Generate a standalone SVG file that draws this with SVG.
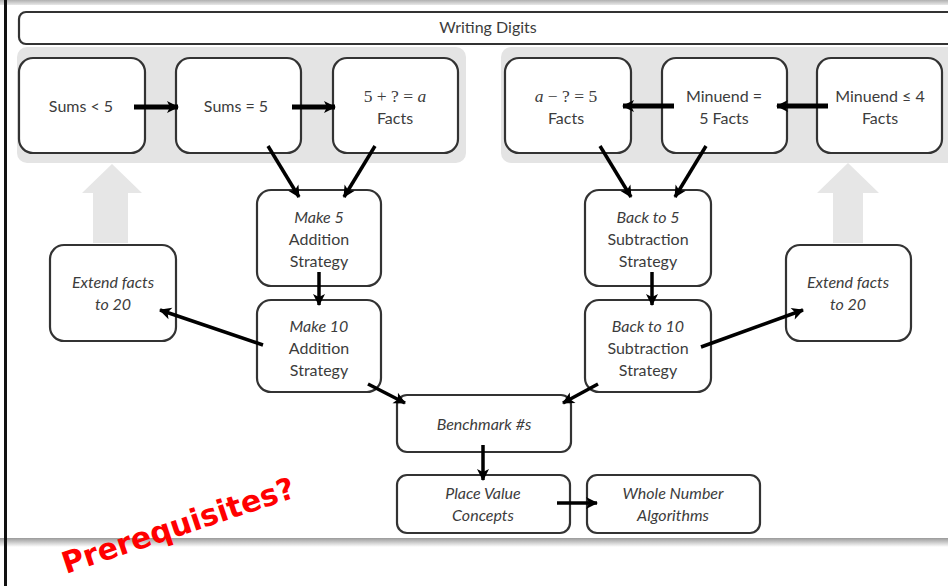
<svg xmlns="http://www.w3.org/2000/svg" width="948" height="586" viewBox="0 0 948 586">
<defs>
<style>
.box{fill:#fff;stroke:#333;stroke-width:2.2}
.t{font-family:Lato,"Open Sans","Liberation Sans",sans-serif;font-size:16px;fill:#3c3c3c;text-anchor:middle}
.i{font-style:italic}
.m{font-family:"Liberation Serif","DejaVu Serif",serif;font-size:17.5px;fill:#3c3c3c;text-anchor:middle}
.c{stroke:#000;stroke-width:3.5;fill:none;marker-end:url(#ah)}
.ct{stroke:#000;stroke-width:5;fill:none;marker-end:url(#ah)}
.band{fill:#e4e4e4}
.garrow{fill:#e6e6e6}
</style>
<marker id="ah" markerUnits="userSpaceOnUse" markerWidth="14" markerHeight="14" viewBox="0 0 14 14" refX="12" refY="7" orient="auto">
<path d="M1,1 L13,7 L1,13 L4,7 Z" fill="#000"/>
</marker>
<linearGradient id="sh" x1="0" y1="0" x2="0" y2="1">
<stop offset="0" stop-color="#9a9a9a"/>
<stop offset="1" stop-color="#ffffff"/>
</linearGradient>
<linearGradient id="tp" x1="0" y1="0" x2="0" y2="1">
<stop offset="0" stop-color="#b0b0b0"/>
<stop offset="1" stop-color="#e8e8e8"/>
</linearGradient>
</defs>
<rect width="948" height="586" fill="#fff"/>
<rect x="0" y="0" width="948" height="5" fill="url(#tp)"/>
<rect x="0" y="538" width="948" height="9" fill="url(#sh)"/>
<rect x="4" y="0" width="3" height="586" fill="#111"/>

<g id="bands">
<rect class="band" x="17" y="47" width="449" height="116" rx="10"/>
<rect class="band" x="501" y="47" width="460" height="116" rx="10"/>
<path class="garrow" d="M93,243 L93,193 L82,193 L112,164 L142,193 L128,193 L128,243 Z"/>
<path class="garrow" d="M833,243 L833,193 L817,193 L848,163 L879,193 L863,193 L863,243 Z"/>
</g>

<g id="writing-digits">
<rect class="box" x="19" y="12" width="960" height="32" rx="7"/>
<text class="t" x="488" y="33">Writing Digits</text>
</g>

<g id="sums-lt-5">
<rect class="box" x="19" y="58" width="126" height="95" rx="14"/>
<text class="t" x="81" y="112">Sums &lt;  5</text>
</g>
<g id="sums-eq-5">
<rect class="box" x="176" y="58" width="125" height="95" rx="14"/>
<text class="t" x="236" y="112">Sums =  5</text>
</g>
<g id="five-plus-facts">
<rect class="box" x="333" y="58" width="125" height="95" rx="14"/>
<text class="m" x="395" y="102">5 + ? = <tspan font-style="italic">a</tspan></text>
<text class="t" x="395" y="124">Facts</text>
</g>
<g id="a-minus-facts">
<rect class="box" x="505" y="58" width="126" height="95" rx="14"/>
<text class="m" x="566" y="102"><tspan font-style="italic">a</tspan> − ? = 5</text>
<text class="t" x="566" y="124">Facts</text>
</g>
<g id="minuend-5">
<rect class="box" x="662" y="58" width="125" height="95" rx="14"/>
<text class="t" x="724" y="102">Minuend =</text>
<text class="t" x="724" y="124">5 Facts</text>
</g>
<g id="minuend-le-4">
<rect class="box" x="817" y="58" width="125" height="95" rx="14"/>
<text class="t" x="880" y="102">Minuend ≤ 4</text>
<text class="t" x="880" y="124">Facts</text>
</g>

<g id="make-5">
<rect class="box" x="257" y="190" width="124" height="96" rx="14"/>
<text class="t i" x="319" y="223">Make 5</text>
<text class="t" x="319" y="245">Addition</text>
<text class="t" x="319" y="267">Strategy</text>
</g>
<g id="make-10">
<rect class="box" x="257" y="300" width="124" height="92" rx="14"/>
<text class="t i" x="319" y="332">Make 10</text>
<text class="t" x="319" y="354">Addition</text>
<text class="t" x="319" y="376">Strategy</text>
</g>
<g id="extend-left">
<rect class="box" x="50" y="245" width="126" height="96" rx="14"/>
<text class="t i" x="113" y="288">Extend facts</text>
<text class="t i" x="113" y="310">to 20</text>
</g>
<g id="back-5">
<rect class="box" x="585" y="190" width="126" height="96" rx="14"/>
<text class="t i" x="648" y="223">Back to 5</text>
<text class="t" x="648" y="245">Subtraction</text>
<text class="t" x="648" y="267">Strategy</text>
</g>
<g id="back-10">
<rect class="box" x="585" y="300" width="126" height="92" rx="14"/>
<text class="t i" x="648" y="332">Back to 10</text>
<text class="t" x="648" y="354">Subtraction</text>
<text class="t" x="648" y="376">Strategy</text>
</g>
<g id="extend-right">
<rect class="box" x="786" y="245" width="125" height="96" rx="14"/>
<text class="t i" x="848" y="288">Extend facts</text>
<text class="t i" x="848" y="310">to 20</text>
</g>
<g id="benchmark">
<rect class="box" x="397" y="395" width="174" height="57" rx="10"/>
<text class="t i" x="484" y="430">Benchmark #s</text>
</g>
<g id="place-value">
<rect class="box" x="397" y="475" width="173" height="58" rx="10"/>
<text class="t i" x="483" y="499">Place Value</text>
<text class="t i" x="483" y="521">Concepts</text>
</g>
<g id="whole-number">
<rect class="box" x="587" y="475" width="173" height="58" rx="10"/>
<text class="t i" x="673" y="499">Whole Number</text>
<text class="t i" x="673" y="521">Algorithms</text>
</g>

<g id="connectors">
<line class="ct" x1="134" y1="107" x2="178" y2="107"/>
<line class="ct" x1="292" y1="107" x2="335" y2="107"/>
<line class="ct" x1="674" y1="106" x2="623" y2="106"/>
<line class="ct" x1="828" y1="106" x2="777" y2="106"/>
<line class="c" x1="268" y1="146" x2="299" y2="197"/>
<line class="c" x1="375" y1="146" x2="344" y2="197"/>
<line class="c" x1="600" y1="146" x2="631" y2="197"/>
<line class="c" x1="706" y1="146" x2="675" y2="197"/>
<line class="c" x1="319" y1="272" x2="319" y2="305"/>
<line class="c" x1="652" y1="272" x2="652" y2="305"/>
<line class="c" x1="263" y1="345" x2="160" y2="310"/>
<line class="c" x1="701" y1="347" x2="803" y2="310"/>
<line class="c" x1="368" y1="384" x2="405" y2="403"/>
<line class="c" x1="598" y1="384" x2="563" y2="403"/>
<line class="c" x1="483" y1="445" x2="483" y2="480"/>
<line class="c" x1="557" y1="503" x2="597" y2="503"/>
</g>

<text x="66" y="574" transform="rotate(-18.5 66 574)" font-family="'DejaVu Sans',Verdana,sans-serif" font-weight="bold" font-size="30" fill="#ff0000">Prerequisites?</text>
</svg>
